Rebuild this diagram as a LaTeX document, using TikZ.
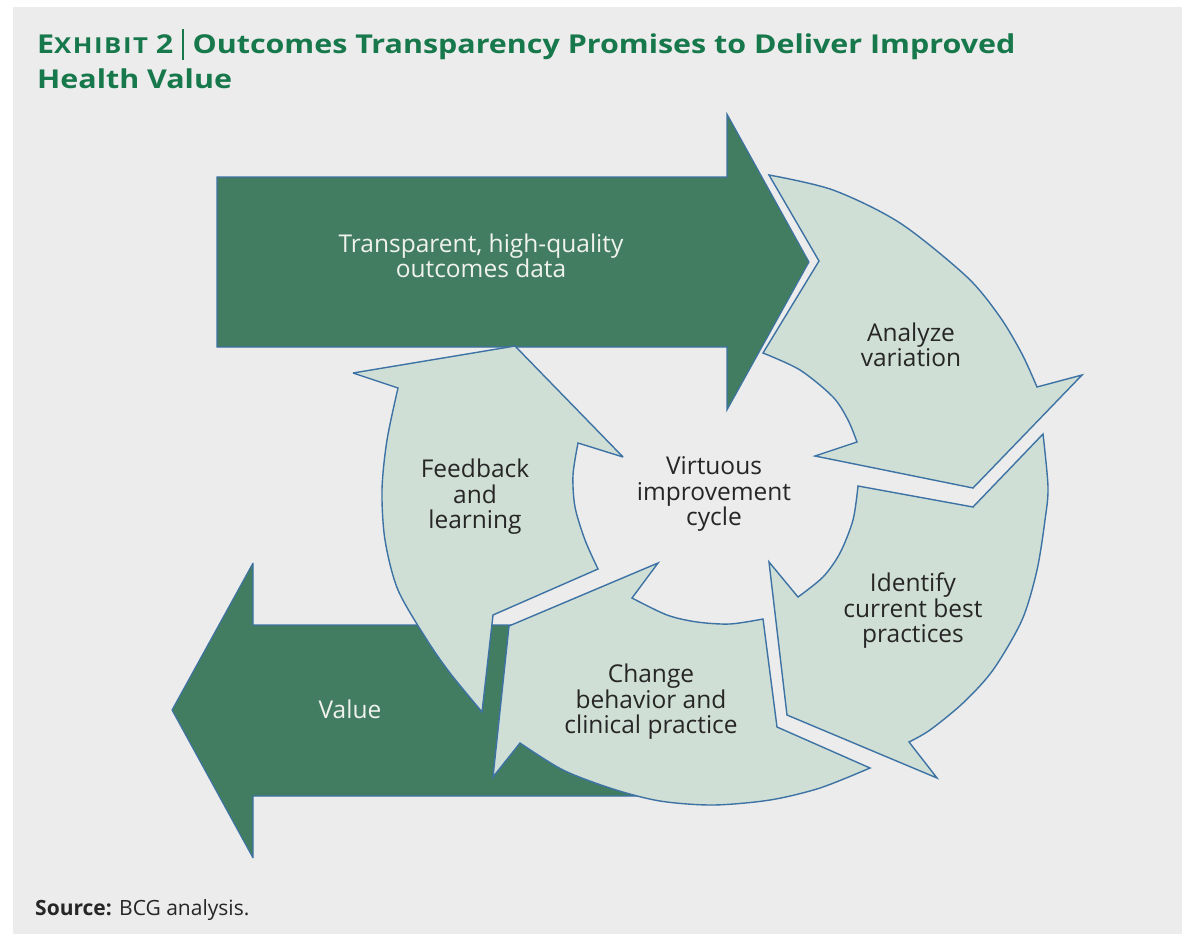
\documentclass[tikz,border=0pt]{standalone}
\usepackage{fontspec}
\setmainfont{Open Sans}
\newfontfamily\headfont{Open Sans}[FakeStretch=1.17]

\definecolor{panel}{HTML}{EBECEB}
\definecolor{deepgreen}{HTML}{427D62}
\definecolor{palegreen}{HTML}{D0DFD6}
\definecolor{rimblue}{HTML}{3D72A4}
\definecolor{titlegreen}{HTML}{17784C}
\definecolor{ink}{HTML}{262626}
\definecolor{paper}{HTML}{F0F2EC}

\tikzset{
  darkarrow/.style={fill=deepgreen, draw=rimblue, line width=1.1pt, line join=miter, miter limit=4},
  lightarrow/.style={fill=palegreen, draw=rimblue, line width=1.4pt, line join=miter, miter limit=4},
  cyclelabel/.style={font=\fontsize{24.5}{25.5}\selectfont, text=ink, align=center, inner sep=0pt},
  banner/.style={cyclelabel, text=paper},
  titletext/.style={font=\headfont\fontsize{26}{26}\selectfont\bfseries, text=titlegreen, inner sep=0pt},
}

\begin{document}
\begin{tikzpicture}[x=1pt, y=-1pt]
\useasboundingbox (0,0) rectangle (1182,934);
\fill[white] (0,0) rectangle (1182,934);
\fill[panel] (13,7) rectangle (1182,934);

% heading
\node[titletext, anchor=base west] (title1) at (37,53)
  {E{\fontsize{22}{22}\selectfont\addfontfeatures{LetterSpace=7}XHIBIT} 2\hspace{9pt}\rule[-7pt]{1.3pt}{31pt}\hspace{9pt}Outcomes Transparency Promises to Deliver Improved};
\node[titletext, anchor=base west] (title2) at (37,88) {Health Value};

% input arrow: outcomes data
\path[darkarrow] (217,177) -- (727,177) -- (727,114) -- (809,262) -- (727,410)
  -- (727,347) -- (217,347) -- cycle;

% output arrow: value
\path[darkarrow] (690,625) -- (253,625) -- (253,563) -- (172,710) -- (253,858)
  -- (253,796) -- (690,796) -- cycle;

% cycle segment: feedback and learning
\path[lightarrow] (515,346) -- (623,457) -- (578,443)
  -- plot[smooth] coordinates {(578,443) (573,475) (575,507) (585,540) (598,569)}
  -- (493,615) -- (482,712)
  -- plot[smooth] coordinates {(482,712) (450,673) (427,640) (398,590) (385,540) (382,490) (387,440) (398,388)}
  -- (353,373) -- cycle;

% cycle segment: change behavior
\path[lightarrow] (763,619) -- (777,727) -- (870,768)
  -- plot[smooth] coordinates {(870,768) (820,788) (770,800) (713,805) (660,801) (613,789) (563,770) (520,743)}
  -- (493,777) -- (509,626) -- (658,563) -- (632,598)
  -- plot[smooth] coordinates {(632,598) (667,615) (697,622) (730,624) (763,619)}
  -- cycle;

% cycle segment: identify best practices
\path[lightarrow] (1043,434) -- (973,507) -- (858,486)
  -- plot[smooth] coordinates {(858,486) (853,520) (840,553) (823,577) (798,597)}
  -- (769,562) -- (787,715) -- (937,778) -- (909,742)
  -- plot[smooth] coordinates {(909,742) (930,730) (963,703) (993,670) (1022,620) (1037,570) (1045,520) (1048,487) (1043,434)}
  -- cycle;

% cycle segment: analyze variation
\path[lightarrow] (769,175) -- (819,261) -- (763,353)
  -- plot[smooth] coordinates {(763,353) (800,370) (833,397) (848,420) (857,442)}
  -- (815,456) -- (973,488) -- (1082,375) -- (1037,387)
  -- plot[smooth] coordinates {(1037,387) (1022,354) (1000,317) (967,277) (900,223) (833,190) (769,175)}
  -- cycle;

% labels
\node[banner] (data) at (481,256) {Transparent, high-quality\\outcomes data};
\node[banner] (value) at (350,709) {Value};
\node[cyclelabel] (analyze) at (911,345) {Analyze\\variation};
\node[cyclelabel] (identify) at (913,611) {Identify\\current best\\practices};
\node[cyclelabel] (change) at (651,702) {Change\\behavior and\\clinical practice};
\node[cyclelabel] (feedback) at (475,497) {Feedback\\and\\learning};
\node[cyclelabel] (centre) at (714,494) {Virtuous\\improvement\\cycle};

% source line
\node[anchor=base west, inner sep=0pt, text=ink, font=\fontsize{21}{21}\selectfont] (source) at (35,915)
  {\textbf{Source:} BCG analysis.};
\end{tikzpicture}
\end{document}
